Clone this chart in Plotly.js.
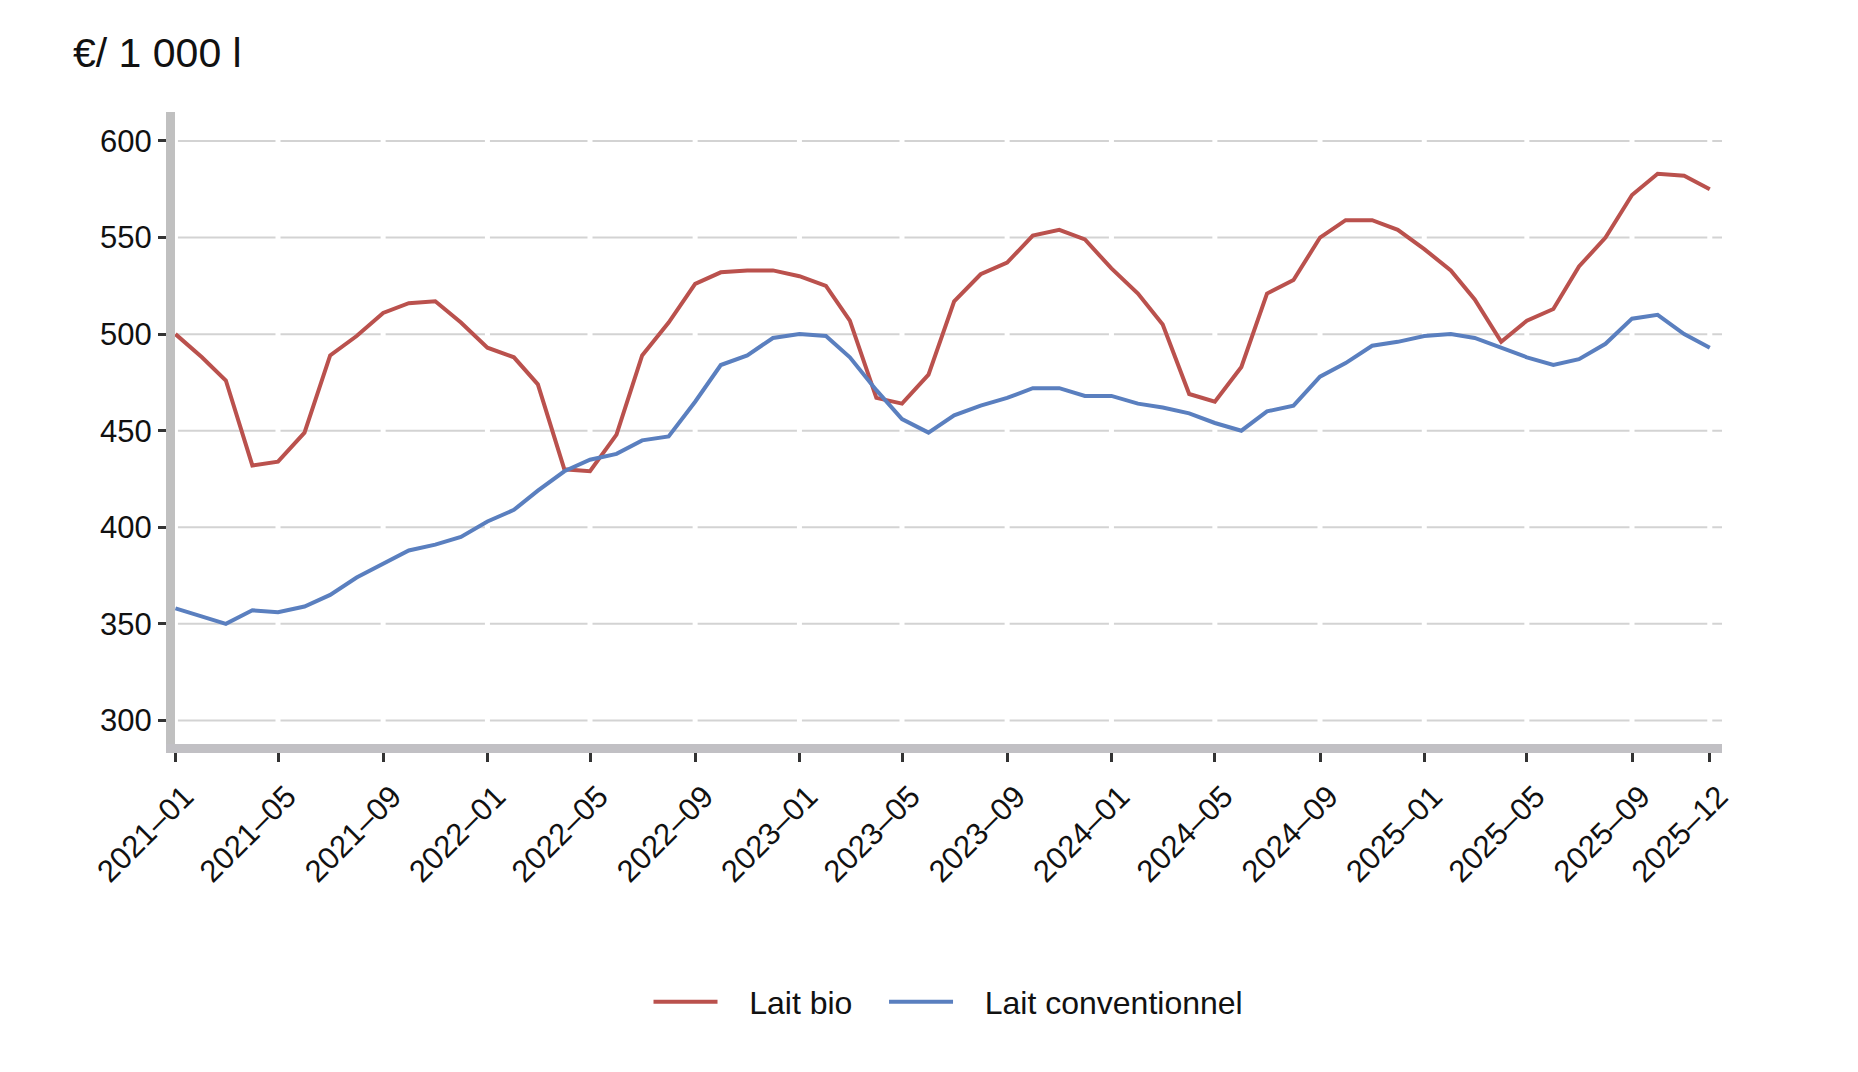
<!DOCTYPE html>
<html>
<head>
<meta charset="utf-8">
<script src="https://cdn.plot.ly/plotly-3.0.1.min.js"></script>
<style>
  html, body { margin: 0; padding: 0; background: #ffffff; }
  #chart { width: 1858px; height: 1072px; }
</style>
</head>
<body>
<div id="chart"></div>
<script>
// Months (x categories)
const months = [
  '2021-01-01','2021-02-01','2021-03-01','2021-04-01','2021-05-01','2021-06-01',
  '2021-07-01','2021-08-01','2021-09-01','2021-10-01','2021-11-01','2021-12-01',
  '2022-01-01','2022-02-01','2022-03-01','2022-04-01','2022-05-01','2022-06-01',
  '2022-07-01','2022-08-01','2022-09-01','2022-10-01','2022-11-01','2022-12-01',
  '2023-01-01','2023-02-01','2023-03-01','2023-04-01','2023-05-01','2023-06-01',
  '2023-07-01','2023-08-01','2023-09-01','2023-10-01','2023-11-01','2023-12-01',
  '2024-01-01','2024-02-01','2024-03-01','2024-04-01','2024-05-01','2024-06-01',
  '2024-07-01','2024-08-01','2024-09-01','2024-10-01','2024-11-01','2024-12-01',
  '2025-01-01','2025-02-01','2025-03-01','2025-04-01','2025-05-01','2025-06-01',
  '2025-07-01','2025-08-01','2025-09-01','2025-10-01','2025-11-01','2025-12-01'
];

// Lait bio (€/1 000 l)
const laitBio = [
  500, 488, 476, 432, 434, 449, 489, 499, 511, 516, 517, 506,
  493, 488, 474, 430, 429, 448, 489, 506, 526, 532, 533, 533,
  530, 525, 507, 467, 464, 479, 517, 531, 537, 551, 554, 549,
  534, 521, 505, 469, 465, 483, 521, 528, 550, 559, 559, 554,
  544, 533, 518, 496, 507, 513, 535, 550, 572, 583, 582, 575
];

// Lait conventionnel (€/1 000 l)
const laitConv = [
  358, 354, 350, 357, 356, 359, 365, 374, 381, 388, 391, 395,
  403, 409, 419, 429, 435, 438, 445, 447, 465, 484, 489, 498,
  500, 499, 488, 471, 456, 449, 458, 463, 467, 472, 472, 468,
  468, 464, 462, 459, 454, 450, 460, 463, 478, 485, 494, 496,
  499, 500, 498, 493, 488, 484, 487, 495, 508, 510, 500, 493
];

// Tick positions and labels
const tickDates = [
  '2021-01-01','2021-05-01','2021-09-01','2022-01-01','2022-05-01','2022-09-01',
  '2023-01-01','2023-05-01','2023-09-01','2024-01-01','2024-05-01','2024-09-01',
  '2025-01-01','2025-05-01','2025-09-01','2025-12-01'
];
const tickLabels = [
  '2021–01','2021–05','2021–09','2022–01','2022–05','2022–09',
  '2023–01','2023–05','2023–09','2024–01','2024–05','2024–09',
  '2025–01','2025–05','2025–09','2025–12'
];
const yTicks = [300, 350, 400, 450, 500, 550, 600];

const seriesNames = ['Lait bio', 'Lait conventionnel'];
const unitLabel = '€/ 1 000 l';

const FONT = 'Liberation Sans, Arial, Helvetica, sans-serif';
const NB = '\u00a0\u00a0\u00a0';

const traces = [
  {
    x: months, y: laitBio, type: 'scatter', mode: 'lines', name: NB + seriesNames[0] + NB,
    line: { color: '#BA514D', width: 4 }
  },
  {
    x: months, y: laitConv, type: 'scatter', mode: 'lines', name: NB + seriesNames[1],
    line: { color: '#5A7FBF', width: 4 }
  }
];

// horizontal grey gridlines at the y ticks, broken by thin white vertical lines at the x ticks
const hGrid = yTicks.map(v => ({
  type: 'line', xref: 'paper', yref: 'y', x0: 0, x1: 1, y0: v, y1: v,
  line: { color: '#D3D3D3', width: 2 }, layer: 'below'
}));
const gridBreaks = tickDates.map(d => ({
  type: 'line', xref: 'x', yref: 'paper', x0: d, x1: d, y0: 0, y1: 1,
  line: { color: '#ffffff', width: 5 }, layer: 'below'
}));

const layout = {
  width: 1858, height: 1072,
  margin: { l: 175, r: 136, t: 112, b: 328 },
  paper_bgcolor: '#ffffff', plot_bgcolor: '#ffffff',
  font: { family: FONT, size: 32, color: '#111111' },
  title: {
    text: unitLabel, xref: 'container', yref: 'container',
    x: 73 / 1858, xanchor: 'left', y: 1 - 53 / 1072, yanchor: 'middle',
    font: { family: FONT, size: 41, color: '#111111' }
  },
  showlegend: true,
  legend: {
    orientation: 'h', x: 0.5, xanchor: 'center', y: -0.408, yanchor: 'middle',
    font: { family: FONT, size: 32, color: '#111111' },
    bgcolor: 'rgba(0,0,0,0)', itemwidth: 64
  },
  xaxis: {
    type: 'date',
    range: ['2020-12-31 12:00', '2025-12-15 07:00'],
    tickmode: 'array', tickvals: tickDates, ticktext: tickLabels,
    tickangle: -45, ticklabelshift: 9, ticklabelstandoff: 4,
    ticks: 'outside', ticklen: 9, tickwidth: 3, tickcolor: '#333333',
    showline: true, linecolor: '#C1C0C4', linewidth: 9,
    showgrid: false, zeroline: false,
    tickfont: { family: FONT, size: 31, color: '#111111' }
  },
  yaxis: {
    range: [287.8, 615],
    tickmode: 'array', tickvals: yTicks,
    ticks: 'outside', ticklen: 8, tickwidth: 3, tickcolor: '#333333',
    showline: true, linecolor: '#C0C0C0', linewidth: 9,
    showgrid: false, zeroline: false,
    tickfont: { family: FONT, size: 31, color: '#111111' }
  },
  shapes: hGrid.concat(gridBreaks)
};

Plotly.newPlot('chart', traces, layout, { displayModeBar: false, staticPlot: true });
</script>
</body>
</html>
